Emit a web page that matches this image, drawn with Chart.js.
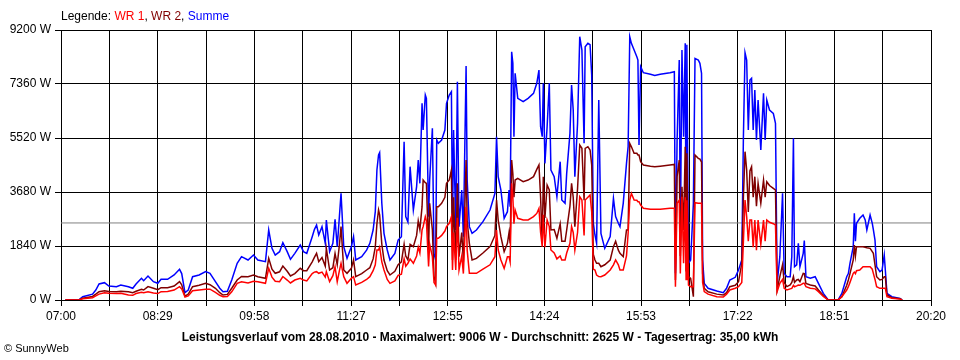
<!DOCTYPE html>
<html>
<head>
<meta charset="utf-8">
<title>Leistungsverlauf 28.08.2010</title>
<script src="https://cdn.jsdelivr.net/npm/chart.js@4/dist/chart.umd.min.js"></script>
<style>
  body { margin: 0; background: #fff; }
  #wrap { position: relative; width: 960px; height: 360px; font-family: "Liberation Sans", Arial, sans-serif; color: #000; }
  #chart { position: absolute; left: 0; top: 0; }
  #legend { position: absolute; left: 61px; top: 9px; font-size: 12px; white-space: nowrap; }
  #title { position: absolute; left: 0; top: 330px; width: 960px; text-align: center; font-size: 12px; font-weight: bold; white-space: nowrap; }
  #copy { position: absolute; left: 4px; top: 342px; font-size: 11px; }
</style>
</head>
<body>
<div id="wrap">
  <canvas id="chart" width="960" height="360"></canvas>
  <div id="legend">Legende: <span style="color:#ff0000">WR 1</span>, <span style="color:#800000">WR 2</span>, <span style="color:#0000ff">Summe</span></div>
  <div id="title">Leistungsverlauf vom 28.08.2010 - Maximalwert: 9006 W - Durchschnitt: 2625 W - Tagesertrag: 35,00 kWh</div>
  <div id="copy">&copy; SunnyWeb</div>
</div>
<script>
// time axis: minutes after 07:00
const timeLabels = ["07:00", "08:29", "09:58", "11:27", "12:55", "14:24", "15:53", "17:22", "18:51", "20:20"];
const yTicks = [0, 1840, 3680, 5520, 7360, 9200];
const average = 2625;

const minutesAfter7 = [
  4, 17, 20, 29, 32, 35, 40, 44, 51, 55,
  62, 66, 69, 74, 76, 80, 85, 89, 92, 98,
  104, 109, 111, 114, 117, 121, 127, 133, 137, 142,
  146, 149, 153, 157, 162, 166, 172, 177, 181, 188,
  191, 194, 197, 201, 204, 208, 211, 215, 220, 223,
  226, 231, 233, 235, 237, 240, 243, 244, 247, 250,
  252, 254, 256, 257.5, 260, 263, 267, 269, 271, 276.5,
  281, 284, 287, 289, 290.5, 292, 293, 295, 297, 300,
  302.5, 307, 310, 313, 315.5, 317, 319, 321, 324, 327,
  328.5, 330, 332, 333, 335, 336, 338, 339, 341.5, 343,
  344.5, 345.5, 347, 350, 353, 354.5, 357, 359, 360, 361,
  363, 364.5, 366, 368.5, 370, 372.5, 373.5, 375.5, 378, 382,
  388, 394.5, 399, 400.5, 402, 404.5, 407.5, 410.5, 412, 413,
  414.4, 415.5, 416.5, 417.6, 420, 425, 429.5, 434.5, 437.5, 439.5,
  441, 442.5, 443.5, 445, 447, 449, 450.5, 453.5, 456, 459,
  460.5, 463.5, 465, 468, 469.5, 471, 472.5, 475, 477, 479,
  481, 482, 484.5, 486.5, 488, 489.5, 491, 492.5, 494.5, 496.5,
  500, 505, 508, 510, 512.5, 514, 517, 520, 521.5, 523,
  524.5, 527, 529.5, 530.5, 531.5, 533, 535.5, 542, 546, 551,
  560, 564, 565, 566.5, 568.5, 569.5, 571, 572.5, 574, 574.8,
  575.5, 577, 579, 581.5, 583, 586, 587.5, 589, 590, 591.5,
  595, 603, 609, 612, 615, 620, 623, 626, 627.5, 629,
  630.5, 632, 633.5, 635, 636.5, 638, 639.5, 641, 643.5, 646,
  647.5, 649, 651.5, 655, 657, 658.5, 661, 663.5, 665, 667.5,
  670.5, 672, 673.5, 674.5, 676.5, 678, 679.5, 682.5, 683.5, 685,
  689, 693.5, 696.5, 701, 705.5, 714.5, 718, 722.5, 724, 725.5,
  728.5, 729.5, 730.5, 731.5, 734.5, 737.5, 739.5, 741, 744, 746,
  747, 748.5, 750, 753, 755, 757, 758, 759.5, 764, 771.5,
  773.5
];

const summe = [
  0, 20, 110, 200, 340, 545, 590, 477, 453, 511,
  453, 398, 545, 739, 658, 818, 624, 569, 704, 704,
  852, 1045, 900, 250, 340, 795, 852, 966, 909, 624,
  400, 284, 300, 681, 1250, 1477, 1363, 1533, 1363, 1306,
  2385, 1760, 1533, 1647, 1954, 1647, 1385, 1590, 1874, 1647,
  1590, 2158, 2400, 2555, 2215, 2499, 1931, 2726, 1647, 1931,
  2749, 1817, 2840, 3634, 1817, 1420, 1817, 2158, 1363, 1476,
  1700, 1931, 2385, 3009, 4429, 4940, 5020, 3294, 2272, 1704,
  1363, 1590, 2044, 2158, 5395, 2840, 2657, 4543, 3066, 3861,
  4770, 3975, 6700, 5792, 6984, 6871, 2840, 4088, 5849, 1590,
  1363, 5451, 5338, 5451, 5792, 6700, 6984, 7097, 2499, 5792,
  2386, 7438, 2499, 3748, 2158, 7973, 4088, 2499, 2272, 2385,
  2669, 3066, 3634, 5565, 4202, 3748, 2783, 3009, 3748, 3180,
  8460, 8064, 5565, 7723, 6871, 6757, 6871, 7041, 7382, 7836,
  5905, 5565, 7382, 4656, 5905, 7382, 4429, 4202, 3520, 4713,
  3407, 3294, 4315, 5679, 7325, 6473, 4202, 6020, 8971, 8518,
  5338, 8630, 8745, 8700, 7666, 2613, 2215, 1931, 6814, 2272,
  1760, 2158, 3464, 2840, 2613, 2499, 3294, 4656, 5224, 8971,
  8745, 8518, 8290, 8177, 5281, 7950, 7745, 7689, 7650, 7689,
  7745, 7780, 909, 5395, 8177, 2044, 8518, 5565, 8745, 1476,
  8700, 1250, 1363, 3294, 8234, 8177, 8064, 7723, 1363, 568,
  398, 307, 250, 398, 681, 773, 1022, 1363, 5565, 8427,
  8177, 5792, 7495, 7552, 5792, 7155, 5450, 6814, 5111, 7041,
  5450, 6814, 6473, 6360, 6020, 568, 1476, 3634, 909, 795,
  795, 1476, 5508, 1136, 1200, 1931, 1136, 1590, 2022, 795,
  739, 795, 568, 227, 0, 0, 227, 795, 900, 1250,
  1817, 2953, 2000, 2613, 2783, 2897, 2726, 2385, 2897, 2613,
  2400, 2044, 1136, 966, 1022, 1533, 1022, 227, 113, 57,
  0
];

const wr2 = [
  0, 10, 60, 120, 200, 284, 318, 290, 284, 300,
  284, 250, 300, 364, 340, 455, 400, 350, 420, 420,
  477, 624, 520, 130, 200, 455, 500, 569, 520, 400,
  250, 170, 190, 400, 681, 800, 795, 852, 795, 740,
  1420, 1050, 909, 960, 1158, 980, 818, 900, 1079, 1000,
  1000, 1300, 1450, 1590, 1306, 1450, 1150, 1760, 1022, 1100,
  1590, 1200, 1874, 2499, 1022, 909, 1079, 1363, 795, 900,
  1022, 1100, 1400, 1800, 2600, 3066, 2900, 1900, 1363, 1000,
  852, 980, 1200, 1300, 1900, 1500, 1363, 1900, 1817, 2200,
  2700, 2400, 3180, 4088, 4000, 3975, 1700, 3294, 2385, 800,
  568, 3180, 3180, 3294, 3500, 3975, 4088, 4429, 1363, 3500,
  1363, 3975, 1476, 2300, 1300, 4770, 2700, 1931, 1363, 1420,
  1600, 1817, 2200, 3407, 2726, 2158, 1647, 1931, 2300, 1931,
  4770, 4300, 3500, 4088, 4145, 4031, 4088, 4202, 4450, 4600,
  3500, 1931, 4200, 2800, 3918, 3748, 2385, 2400, 2102, 2600,
  2000, 2000, 2385, 3200, 3975, 3500, 2499, 3800, 5281, 5168,
  3400, 5168, 5224, 5111, 4600, 1550, 1363, 1250, 1250, 1136,
  1200, 1363, 1817, 2000, 1700, 1590, 1476, 2385, 2385, 5338,
  5224, 5000, 4997, 4940, 4940, 4713, 4600, 4560, 4540, 4560,
  4600, 4620, 681, 4202, 4770, 1500, 3861, 2385, 5224, 1000,
  5000, 795, 739, 113, 4940, 4827, 4800, 4700, 900, 398,
  280, 200, 170, 250, 455, 500, 624, 1250, 3500, 5054,
  4429, 3000, 4400, 4543, 3500, 4202, 3200, 3975, 3294, 4088,
  3500, 4031, 3900, 3805, 3748, 341, 795, 1200, 600, 455,
  511, 600, 800, 600, 681, 700, 624, 909, 900, 568,
  511, 480, 341, 150, 0, 0, 113, 500, 681, 900,
  1363, 1874, 1500, 1817, 1817, 1817, 1800, 1780, 1760, 1650,
  1590, 1200, 795, 681, 700, 795, 795, 170, 80, 40,
  0
];

const wr1 = [
  0, 10, 40, 80, 140, 200, 250, 230, 220, 230,
  170, 160, 220, 260, 250, 284, 240, 220, 284, 290,
  340, 455, 380, 100, 140, 318, 340, 364, 370, 260,
  160, 113, 120, 280, 569, 620, 580, 640, 624, 570,
  1079, 780, 640, 624, 800, 680, 580, 680, 740, 680,
  650, 900, 950, 966, 909, 950, 780, 966, 625, 830,
  1136, 620, 1000, 1250, 795, 568, 739, 795, 511, 600,
  700, 795, 1000, 1200, 1704, 1704, 1800, 1300, 1022, 700,
  568, 650, 840, 880, 1400, 1150, 1250, 1400, 1250, 1500,
  1800, 1600, 2385, 2500, 2840, 2700, 1140, 1900, 1476, 600,
  511, 2102, 2102, 2200, 2350, 2500, 2613, 2840, 1022, 2300,
  1022, 2800, 1022, 1500, 900, 3180, 1700, 909, 909, 909,
  1050, 1200, 1476, 2385, 1704, 1363, 1079, 1476, 1476, 1300,
  3975, 3500, 2600, 3066, 2783, 2726, 2726, 2840, 2950, 3124,
  2300, 1817, 2900, 1800, 2726, 2500, 1704, 1600, 1400, 1500,
  1363, 1363, 1600, 1931, 2500, 2300, 1700, 2300, 3520, 3407,
  2200, 3407, 3500, 3577, 3000, 1050, 1022, 850, 800, 795,
  850, 1022, 1200, 1363, 1200, 1022, 1022, 1500, 2272, 3407,
  3634, 3407, 3400, 3350, 3350, 3237, 3124, 3090, 3090, 3090,
  3124, 3124, 455, 3294, 3400, 900, 3520, 1250, 3500, 700,
  3400, 511, 455, 455, 3316, 3294, 3294, 3294, 600, 284,
  200, 113, 100, 200, 341, 400, 455, 600, 2000, 3407,
  2840, 2000, 2726, 2726, 1800, 2726, 1700, 2726, 1900, 2726,
  2000, 2726, 2650, 2600, 2555, 284, 568, 700, 400, 341,
  380, 397, 500, 450, 480, 511, 500, 568, 568, 455,
  400, 380, 284, 120, 0, 0, 113, 340, 455, 600,
  909, 950, 900, 1000, 1022, 1136, 1136, 1136, 1136, 1050,
  909, 700, 455, 398, 398, 398, 398, 113, 60, 30,
  0
];

const fontFamily = '"Liberation Sans", Arial, sans-serif';
Chart.defaults.font.family = fontFamily;
Chart.defaults.font.size = 12;
Chart.defaults.color = "#000";

const dayMinutes = 800;   // 07:00 .. 20:20
const gridSteps = 18;

function toPoints(values) {
  return values.map((v, i) => ({ x: minutesAfter7[i], y: v }));
}

function lineSet(label, values, color, order) {
  return {
    label: label,
    data: toPoints(values),
    borderColor: color,
    borderWidth: 1.5,
    pointRadius: 0,
    tension: 0,
    fill: false,
    order: order,
  };
}

new Chart(document.getElementById("chart"), {
  type: "line",
  data: {
    datasets: [
      lineSet("WR 1", wr1, "#ff0000", 1),
      lineSet("WR 2", wr2, "#800000", 2),
      lineSet("Summe", summe, "#0000ff", 3),
      {
        label: "Durchschnitt",
        data: [{ x: 0, y: average }, { x: dayMinutes, y: average }],
        borderColor: "#808080",
        borderWidth: 1,
        pointRadius: 0,
        order: 4,
      },
    ],
  },
  options: {
    responsive: false,
    animation: false,
    layout: { padding: { left: 0, right: 29, top: 30, bottom: 0 } },
    plugins: { legend: { display: false }, tooltip: { enabled: false } },
    scales: {
      x: {
        type: "linear",
        min: 0,
        max: dayMinutes,
        afterBuildTicks: (axis) => {
          axis.ticks = [];
          for (let i = 0; i <= gridSteps; i++) {
            axis.ticks.push({ value: (dayMinutes * i) / gridSteps });
          }
        },
        afterFit: (scale) => { scale.height = 60; },
        ticks: {
          autoSkip: false,
          maxRotation: 0,
          padding: 3,
          callback: (value, i) => (i % 2 === 0 ? timeLabels[i / 2] : ""),
        },
        grid: { color: "#000", lineWidth: 1, tickLength: 6 },
        border: { color: "#000", width: 1 },
      },
      y: {
        min: yTicks[0],
        max: yTicks[yTicks.length - 1],
        afterBuildTicks: (axis) => {
          axis.ticks = yTicks.map((v) => ({ value: v }));
        },
        afterFit: (scale) => { scale.width = 61; },
        ticks: {
          padding: 4,
          callback: (value) => value + " W",
        },
        grid: { color: "#000", lineWidth: 1, tickLength: 6 },
        border: { color: "#000", width: 1 },
      },
    },
  },
});
</script>
</body>
</html>
